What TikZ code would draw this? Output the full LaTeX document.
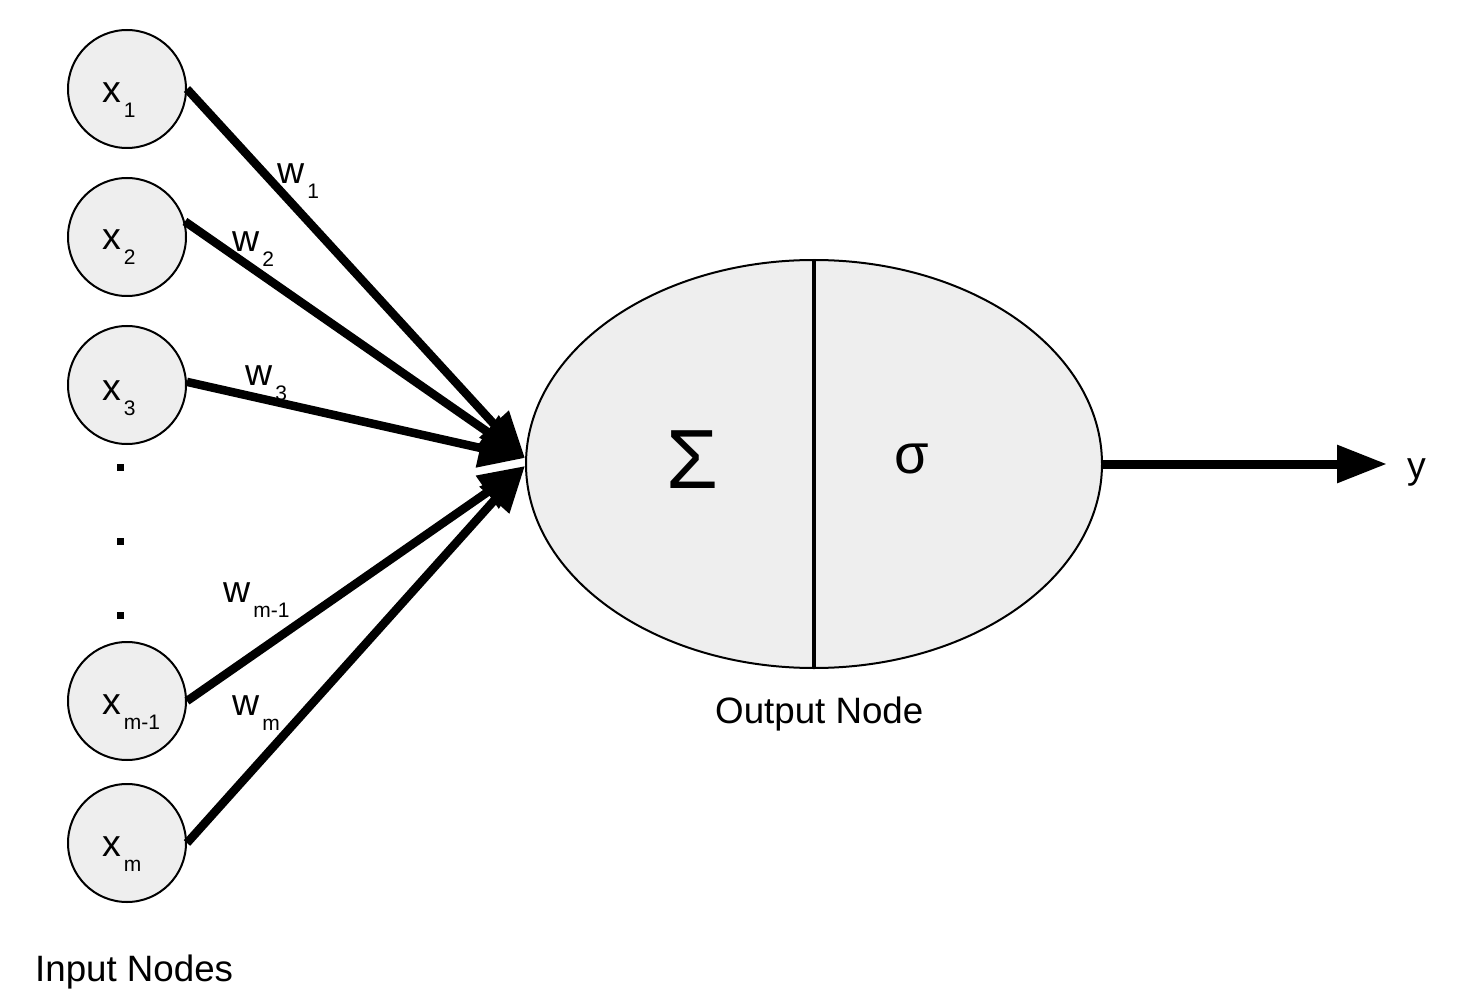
\documentclass[tikz,border=0pt]{standalone}
\usepackage{fontspec}
\setmainfont{Liberation Sans}
\usetikzlibrary{arrows.meta,shapes.geometric}
\definecolor{nodegray}{HTML}{EEEEEE}
\newcommand\lsub[1]{\kern3pt\raisebox{-15pt}{\fontsize{21}{22}\selectfont #1}}
\begin{document}
\begin{tikzpicture}[x=1pt,y=-1pt,
  inp/.style={circle,draw,line width=2pt,fill=nodegray,minimum size=118pt,inner sep=0pt},
  lbl/.style={anchor=base west,inner sep=0pt,font=\fontsize{37.5}{40}\selectfont},
  captext/.style={anchor=base west,inner sep=0pt,font=\fontsize{36.7}{40}\selectfont},
  edge/.style={line width=8.5pt,-{Triangle[length=46pt,width=38pt]}},
  dotsq/.style={fill=black,minimum size=7pt,inner sep=0pt,rectangle}]
\useasboundingbox (0,0) rectangle (1462,1008);
% input nodes
\node[inp] (x1) at (127,89) {};
\node[inp] (x2) at (127,237) {};
\node[inp] (x3) at (127,385) {};
\node[inp] (xm1) at (127,701) {};
\node[inp] (xm) at (127,843) {};
\node[lbl] (lx1) at (102,103) {x\lsub{1}};
\node[lbl] (lx2) at (102,250) {x\lsub{2}};
\node[lbl] (lx3) at (102,400) {x\lsub{3}};
\node[lbl] (lxm1) at (102,714) {x\lsub{m-1}};
\node[lbl] (lxm) at (102,856) {x\lsub{m}};
% dots
\node[dotsq] (d1) at (120,467) {};
\node[dotsq] (d2) at (120,541) {};
\node[dotsq] (d3) at (120,615) {};
% output node
\node[ellipse,draw,line width=2pt,fill=nodegray,minimum width=576pt,minimum height=408pt,inner sep=0pt] (out) at (814,464) {};
\draw[line width=4.5pt] (out.north) -- (out.south);
\node[anchor=base west,inner sep=0pt,font=\fontsize{84}{86}\selectfont] (sum) at (666,488) {Σ};
\node[anchor=base west,inner sep=0pt,font=\fontsize{56}{58}\selectfont] (sig) at (894,473) {σ};
% tips
\coordinate (tipU) at (525,458);
\coordinate (tipL) at (525,466);
\coordinate (yend) at (1387,464);
% edges
\draw[edge] (x1.east) -- (tipU);
\draw[edge] (x2.15) -- (tipU);
\draw[edge] (x3.3) -- (tipU);
\draw[edge] (xm1.east) -- (tipL);
\draw[edge] (xm.east) -- (tipL);
\draw[line width=9pt,-{Triangle[length=50pt,width=36pt]}] (out.east) -- (yend);
% weight labels
\node[lbl] (w1) at (277,184) {w\lsub{1}};
\node[lbl] (w2) at (232,252) {w\lsub{2}};
\node[lbl] (w3) at (245,385) {w\lsub{3}};
\node[lbl] (wm1) at (223,602) {w\lsub{m-1}};
\node[lbl] (wm) at (232,715) {w\lsub{m}};
% other labels
\node[lbl] (y) at (1407,478) {y};
\node[captext] (outlbl) at (715,723) {Output Node};
\node[captext] (inlbl) at (35,981) {Input Nodes};
\end{tikzpicture}
\end{document}
